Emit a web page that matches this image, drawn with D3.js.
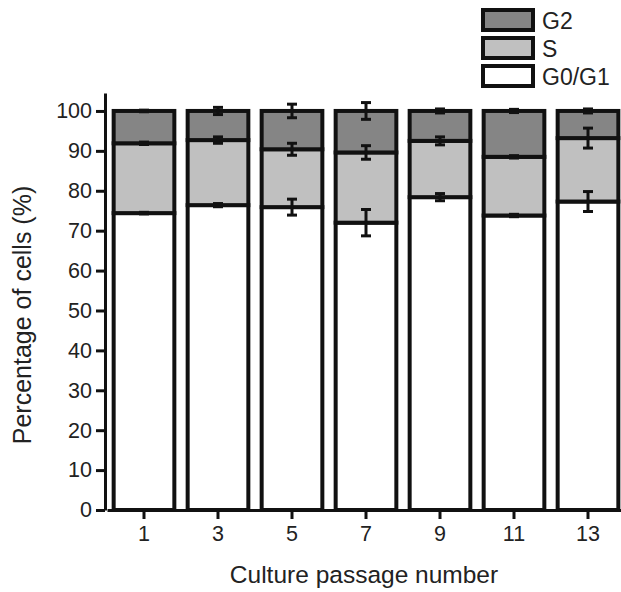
<!DOCTYPE html>
<html>
<head>
<meta charset="utf-8">
<script src="https://cdn.jsdelivr.net/npm/d3@7"></script>
<style>
  html, body { margin: 0; padding: 0; background: #fff; }
  svg { display: block; }
  text { font-family: "Liberation Sans", Arial, sans-serif; fill: #222; }
</style>
</head>
<body>
<svg id="chart" width="621" height="592"></svg>
<script>
// ---- data ----
const passages = ["1", "3", "5", "7", "9", "11", "13"];
const g0g1 = [74.4, 76.4, 75.9, 72.0, 78.4, 73.8, 77.3];
const sPhase = [17.5, 16.3, 14.5, 17.6, 14.1, 14.7, 15.9];
const g2 = [8.1, 7.3, 9.6, 10.4, 7.5, 11.5, 6.8];
const g0g1Err = [0.2, 0.4, 2.0, 3.3, 0.9, 0.3, 2.5];
const sErr = [0.3, 0.8, 1.5, 1.7, 1.0, 0.3, 2.5];
const g2Err = [0.2, 0.9, 1.7, 2.1, 0.5, 0.4, 0.5];
const yTicks = [0, 10, 20, 30, 40, 50, 60, 70, 80, 90, 100];
const seriesNames = ["G0/G1", "S", "G2"];
const seriesColors = ["#ffffff", "#c0c0c0", "#858585"];

const svg = d3.select("#chart");

const x = d3.scaleBand().domain(passages).range([107, 625])
  .paddingInner(0.18).paddingOuter(0.09);
const y = d3.scaleLinear().domain([0, 104.5]).range([510, 93]);

// stacked data
const rows = passages.map((p, i) => ({ p, "G0/G1": g0g1[i], "S": sPhase[i], "G2": g2[i] }));
const stack = d3.stack().keys(seriesNames)(rows);
const errs = [g0g1Err, sErr, g2Err];

// bars
stack.forEach((layer, li) => {
  svg.append("g").selectAll("rect").data(layer).join("rect")
    .attr("x", d => x(d.data.p))
    .attr("width", x.bandwidth())
    .attr("y", d => y(d[1]))
    .attr("height", d => y(d[0]) - y(d[1]))
    .attr("fill", seriesColors[li])
    .attr("stroke", "#111")
    .attr("stroke-width", 4);
});

// error bars at segment tops
stack.forEach((layer, li) => {
  const g = svg.append("g").attr("stroke", "#111").attr("stroke-width", 3);
  layer.forEach((d, i) => {
    const cx = x(d.data.p) + x.bandwidth() / 2;
    const e = errs[li][i];
    const top = y(d[1] + e), bot = y(d[1] - e);
    g.append("line").attr("x1", cx).attr("x2", cx).attr("y1", top).attr("y2", bot);
    g.append("line").attr("x1", cx - 5).attr("x2", cx + 5).attr("y1", top).attr("y2", top);
    g.append("line").attr("x1", cx - 5).attr("x2", cx + 5).attr("y1", bot).attr("y2", bot);
  });
});

// y axis
const yAxis = svg.append("g").attr("transform", "translate(105,0)")
  .call(d3.axisLeft(y).tickValues(yTicks).tickSize(9).tickSizeOuter(0));
yAxis.select(".domain").attr("stroke", "#111").attr("stroke-width", 3);
yAxis.selectAll(".tick line").attr("stroke", "#111").attr("stroke-width", 3);
yAxis.selectAll(".tick text").attr("font-size", 21.5).attr("x", -13)
  .attr("fill", "#222").style("font-family", "Liberation Sans, Arial, sans-serif");

// x axis
const xAxis = svg.append("g").attr("transform", "translate(0,510)")
  .call(d3.axisBottom(x).tickSize(9).tickSizeOuter(0));
xAxis.select(".domain").attr("stroke", "#111").attr("stroke-width", 3);
xAxis.selectAll(".tick line").attr("stroke", "#111").attr("stroke-width", 3);
xAxis.selectAll(".tick text").attr("font-size", 21.5).attr("y", 16)
  .attr("fill", "#222").style("font-family", "Liberation Sans, Arial, sans-serif");

// axis titles
svg.append("text").attr("x", 364).attr("y", 583).attr("text-anchor", "middle")
  .attr("font-size", 24.5).text("Culture passage number");
svg.append("text").attr("transform", "translate(31,315) rotate(-90)")
  .attr("text-anchor", "middle").attr("font-size", 25).text("Percentage of cells (%)");

// legend (G2, S, G0/G1 top to bottom)
const legendOrder = [2, 1, 0];
legendOrder.forEach((si, k) => {
  const ly = 10 + k * 28;
  svg.append("rect").attr("x", 483).attr("y", ly).attr("width", 50).attr("height", 20)
    .attr("fill", seriesColors[si]).attr("stroke", "#111").attr("stroke-width", 4);
  svg.append("text").attr("x", 542).attr("y", ly + 19).attr("font-size", 23)
    .text(seriesNames[si]);
});
</script>
</body>
</html>
